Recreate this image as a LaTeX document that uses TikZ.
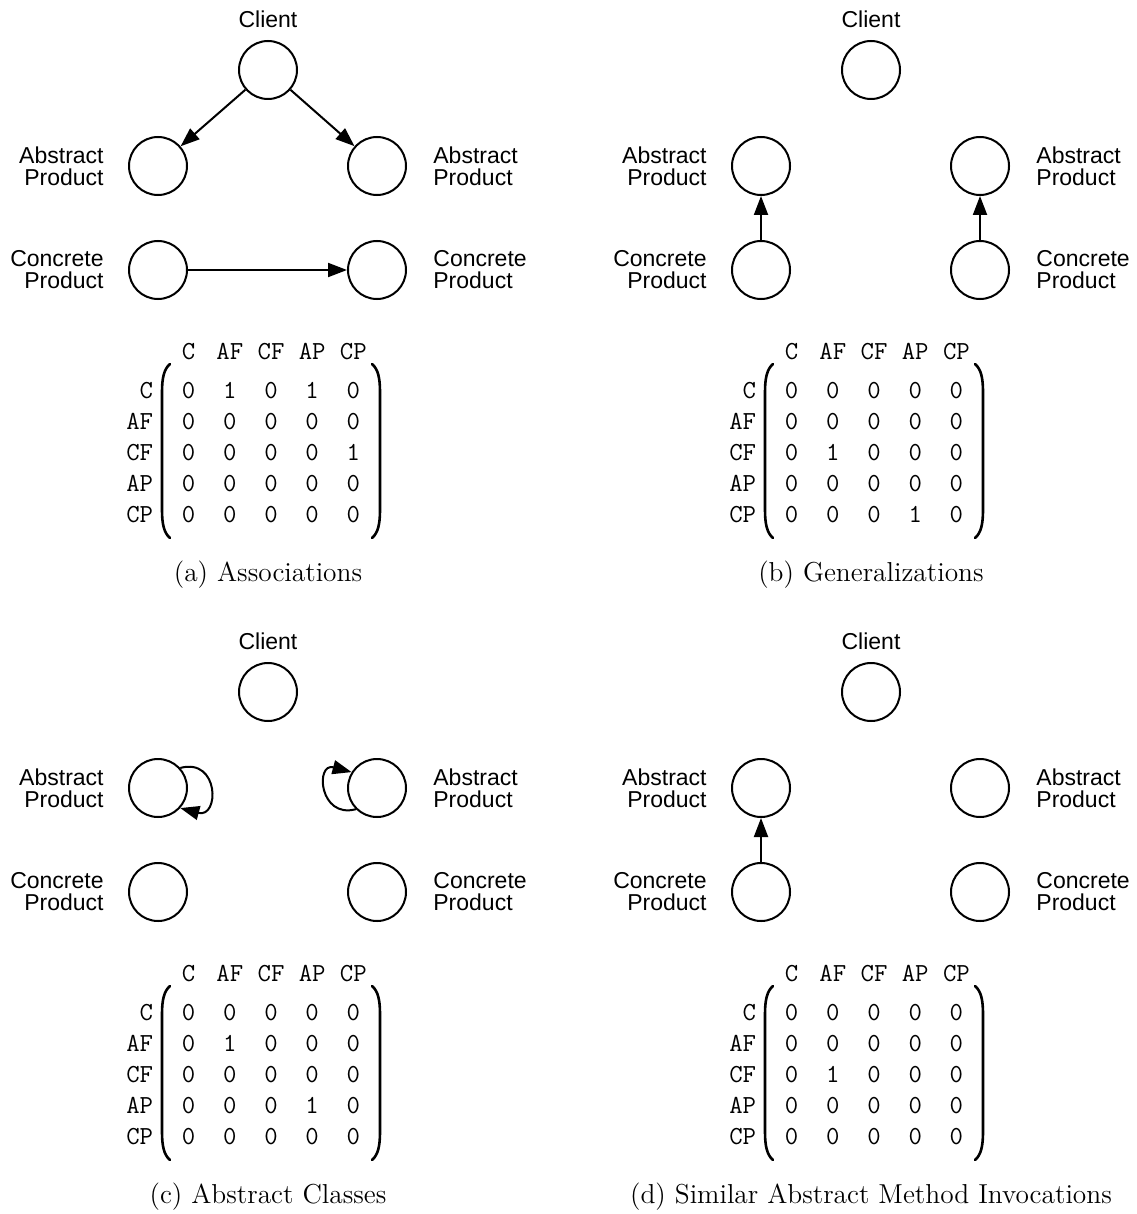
\documentclass[tikz,border=0pt]{standalone}
\usepackage{fontspec}
\newfontfamily\lblfont{Liberation Sans}
\usetikzlibrary{arrows.meta, positioning, matrix}

\begin{document}
\begin{tikzpicture}[
    x=0.5pt, y=-0.5pt,
    obj/.style={circle, draw, line width=1pt, minimum size=29pt, inner sep=0pt},
    lbl/.style={font=\lblfont\fontsize{11.5}{11}\selectfont, inner sep=0pt},
    mtx/.style={font=\ttfamily\fontsize{13}{13}\selectfont, inner sep=0pt, text height=8pt, text depth=0pt},
    mat/.style={matrix of nodes, nodes={mtx}, column sep=13.9pt, row sep=7.5pt},
    brk/.style={line width=1.3pt, line cap=round},
    captxt/.style={font=\fontsize{13.7}{16}\selectfont, inner sep=0pt},
    arr/.style={-{Triangle[length=9.5pt, width=7pt]}, line width=1pt}
]
   \useasboundingbox (0,0) rectangle (1136,1214);

   % Matrices
   \matrix (a-m) [mat] at (271,452) {
      0 & 1 & 0 & 1 & 0 \\
      0 & 0 & 0 & 0 & 0 \\
      0 & 0 & 0 & 0 & 1 \\
      0 & 0 & 0 & 0 & 0 \\
      0 & 0 & 0 & 0 & 0 \\
   };
   \matrix (b-m) [mat] at (874,452) {
      0 & 0 & 0 & 0 & 0 \\
      0 & 0 & 0 & 0 & 0 \\
      0 & 1 & 0 & 0 & 0 \\
      0 & 0 & 0 & 0 & 0 \\
      0 & 0 & 0 & 1 & 0 \\
   };
   \matrix (c-m) [mat] at (271,1074) {
      0 & 0 & 0 & 0 & 0 \\
      0 & 1 & 0 & 0 & 0 \\
      0 & 0 & 0 & 0 & 0 \\
      0 & 0 & 0 & 1 & 0 \\
      0 & 0 & 0 & 0 & 0 \\
   };
   \matrix (d-m) [mat] at (874,1074) {
      0 & 0 & 0 & 0 & 0 \\
      0 & 0 & 0 & 0 & 0 \\
      0 & 1 & 0 & 0 & 0 \\
      0 & 0 & 0 & 0 & 0 \\
      0 & 0 & 0 & 0 & 0 \\
   };

   % Classes, labels and captions of the four panels
   \foreach \p/\dx/\dy/\ttl in {a/0/0/Associations, b/603/0/Generalizations,
         c/0/622/Abstract Classes, d/603/622/Similar Abstract Method Invocations} {
      \begin{scope}[shift={(\dx,\dy)}, name prefix=\p-]
         \node[obj] (cl) at (268,70) {};
         \node[obj] (ap1) at (158,166) {};
         \node[obj] (ap2) at (377,166) {};
         \node[obj] (cp1) at (158,270) {};
         \node[obj] (cp2) at (377,270) {};

         \node[lbl, above=6pt of cl] (cl-l) {Client};
         \node[lbl, align=right, left=12pt of ap1] (ap1-l) {Abstract\\Product};
         \node[lbl, align=left, right=13pt of ap2] (ap2-l) {Abstract\\Product};
         \node[lbl, align=right, left=12pt of cp1] (cp1-l) {Concrete\\Product};
         \node[lbl, align=left, right=13pt of cp2] (cp2-l) {Concrete\\Product};

         % matrix headings
         \foreach \h [count=\i] in {C,AF,CF,AP,CP} {
            \node[mtx, above=11pt of m-1-\i] (h\i) {\h};
            \node[mtx, left=14pt of m-\i-1] (r\i) {\h};
         }

         % brackets
         \draw[brk] (170,364) .. controls (164,369) and (162,378) .. (162,392)
            -- (162,510) .. controls (162,524) and (164,533) .. (170,538);
         \draw[brk] (372,364) .. controls (378,369) and (380,378) .. (380,392)
            -- (380,510) .. controls (380,524) and (378,533) .. (372,538);

         \node[captxt] (ttl) at (268,575) {(\p) \ttl};
      \end{scope}
   }

   % Associations
   \draw[arr] (a-cl) -- (a-ap1);
   \draw[arr] (a-cl) -- (a-ap2);
   \draw[arr] (a-cp1) -- (a-cp2);

   % Generalizations
   \draw[arr] (b-cp1) -- (b-ap1);
   \draw[arr] (b-cp2) -- (b-ap2);

   % Abstract classes
   \draw[arr] (c-ap1.42) to[out=15, in=-15, looseness=2.6] (c-ap1.-42);
   \draw[arr] (c-ap2.-135) to[out=195, in=165, looseness=2.6] (c-ap2.148);

   % Similar abstract method invocations
   \draw[arr] (d-cp1) -- (d-ap1);

\end{tikzpicture}
\end{document}
